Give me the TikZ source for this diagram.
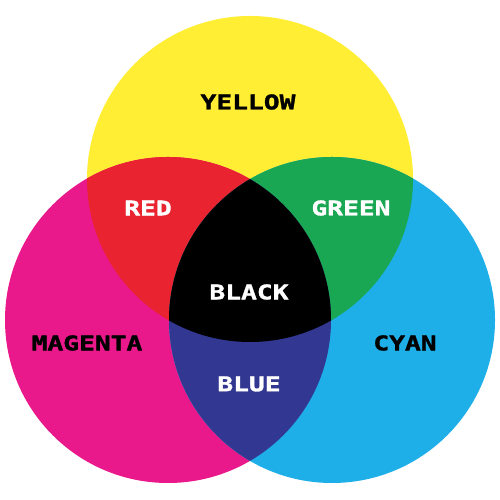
\documentclass[tikz,border=0pt]{standalone}
\usepackage{fontspec}
\newfontfamily\pixfont[FakeStretch=1.3,FakeBold=1.5]{DejaVu Sans Mono}
\definecolor{cyel}{RGB}{255,238,51}
\definecolor{cmag}{RGB}{233,24,139}
\definecolor{ccya}{RGB}{30,174,232}
\definecolor{cred}{RGB}{234,35,48}
\definecolor{cgrn}{RGB}{25,167,84}
\definecolor{cblu}{RGB}{50,55,145}
\tikzset{lbl/.style={font=\pixfont\bfseries\fontsize{11.5}{13}\selectfont}}
\begin{document}
\begin{tikzpicture}
\useasboundingbox (0,0) rectangle (10,10);
\fill[cyel] (5,6.42) circle (3.26);
\fill[cmag] (3.36,3.6) circle (3.26);
\fill[ccya] (6.64,3.6) circle (3.26);
\begin{scope}
\clip (5,6.42) circle (3.26);
\fill[cred] (3.36,3.6) circle (3.26);
\fill[cgrn] (6.64,3.6) circle (3.26);
\end{scope}
\begin{scope}
\clip (3.36,3.6) circle (3.26);
\fill[cblu] (6.64,3.6) circle (3.26);
\clip (6.64,3.6) circle (3.26);
\fill[black] (5,6.42) circle (3.26);
\end{scope}
\node[lbl,black] (yellow) at (4.96,7.96) {YELLOW};
\node[lbl,white] (red) at (2.96,5.84) {RED};
\node[lbl,white] (green) at (7.02,5.84) {GREEN};
\node[lbl,white] (black) at (4.98,4.16) {BLACK};
\node[lbl,black] (magenta) at (1.74,3.14) {MAGENTA};
\node[lbl,white] (blue) at (4.98,2.32) {BLUE};
\node[lbl,black] (cyan) at (8.1,3.14) {CYAN};
\end{tikzpicture}
\end{document}
